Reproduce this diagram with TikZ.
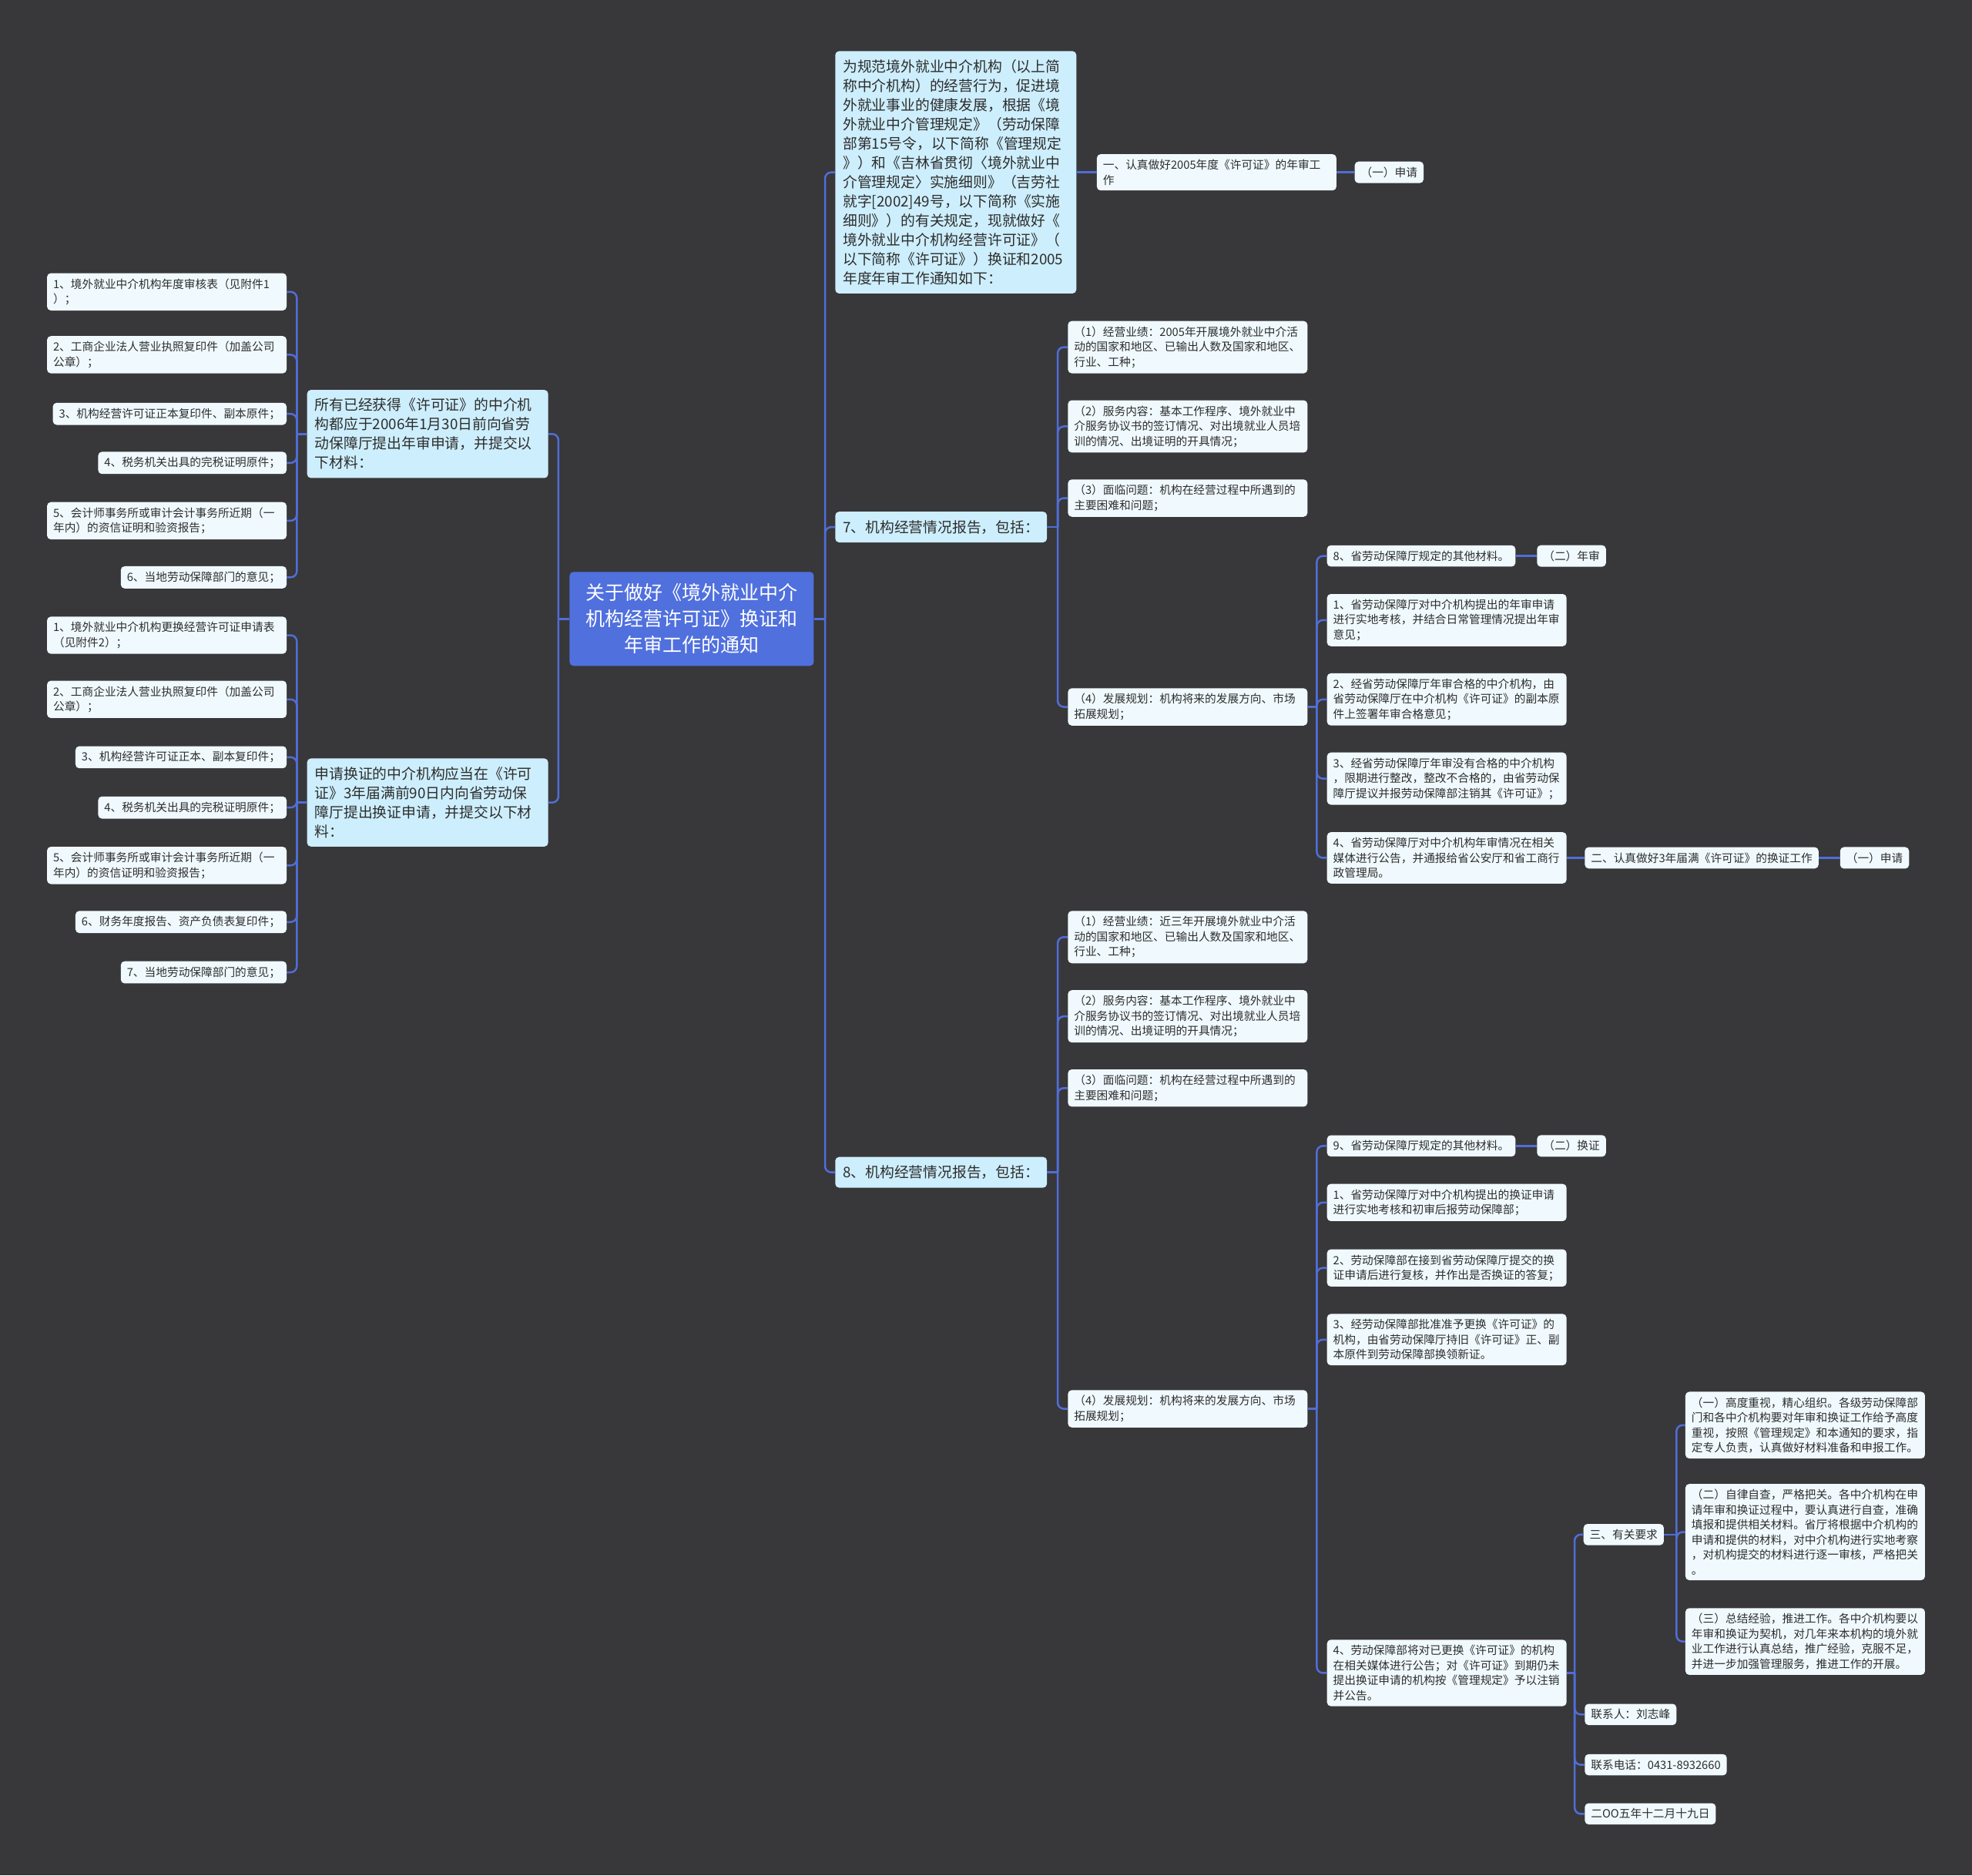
\documentclass[tikz,border=0pt]{standalone}
\usepackage{fontspec}
\newfontfamily\cjk{Noto Sans CJK SC}
\definecolor{bg}{RGB}{56,55,58}
\definecolor{rootc}{RGB}{80,112,222}
\definecolor{lvone}{RGB}{205,238,252}
\definecolor{leafc}{RGB}{240,250,254}
\definecolor{linec}{RGB}{80,110,214}
\definecolor{txt}{RGB}{45,45,45}
\begin{document}
\begin{tikzpicture}[x=1.6327pt,y=-1.6327pt,
  leaf/.style={rounded corners=5pt, fill=leafc, text=txt, inner xsep=8pt, inner ysep=7pt,
    font=\cjk\fontsize{14.7pt}{19.5pt}\selectfont, align=left},
  wleaf/.style={leaf, text width=295pt},
  lvl/.style={rounded corners=5pt, fill=lvone, text=txt, inner xsep=10pt, inner ysep=11pt,
    font=\cjk\fontsize{18.8pt}{25pt}\selectfont, align=left},
  wlvl/.style={lvl, text width=293pt},
  rootn/.style={rounded corners=5pt, fill=rootc, text=white, inner xsep=10pt, inner ysep=10pt,
    font=\cjk\fontsize{25pt}{34pt}\selectfont, align=center, text width=297pt, minimum height=122pt},
  conn/.style={draw=linec, line width=2.5pt, rounded corners=8pt}]
\fill[bg] (0,0) rectangle (1568,1491);
\useasboundingbox (0,0) rectangle (1568,1491);

% root
\node[rootn] (root) at (550,492) {关于做好《境外就业中介\\机构经营许可证》换证和\\年审工作的通知};

% right level 1
\node[wlvl, anchor=west] (intro) at (664,137) {为规范境外就业中介机构（以上简\\称中介机构）的经营行为，促进境\\外就业事业的健康发展，根据《境\\外就业中介管理规定》（劳动保障\\部第15号令，以下简称《管理规定\\》）和《吉林省贯彻〈境外就业中\\介管理规定〉实施细则》（吉劳社\\就字[2002]49号，以下简称《实施\\细则》）的有关规定，现就做好《\\境外就业中介机构经营许可证》（\\以下简称《许可证》）换证和2005\\年度年审工作通知如下：};
\node[wleaf, anchor=west] (y1) at (872,137) {一、认真做好2005年度《许可证》的年审工\\作};
\node[leaf, anchor=west] (y1a) at (1077,137) {（一）申请};

\node[lvl, anchor=west] (s7) at (664,419) {7、机构经营情况报告，包括：};
\node[wleaf, anchor=west] (a1) at (849,276) {（1）经营业绩：2005年开展境外就业中介活\\动的国家和地区、已输出人数及国家和地区、\\行业、工种；};
\node[wleaf, anchor=west] (a2) at (849,339) {（2）服务内容：基本工作程序、境外就业中\\介服务协议书的签订情况、对出境就业人员培\\训的情况、出境证明的开具情况；};
\node[wleaf, anchor=west] (a3) at (849,396) {（3）面临问题：机构在经营过程中所遇到的\\主要困难和问题；};
\node[wleaf, anchor=west] (a4) at (849,562) {（4）发展规划：机构将来的发展方向、市场\\拓展规划；};
\node[leaf, anchor=west] (b8) at (1055,442) {8、省劳动保障厅规定的其他材料。};
\node[leaf, anchor=west] (b8n) at (1222,442) {（二）年审};
\node[wleaf, anchor=west] (b1) at (1055,493) {1、省劳动保障厅对中介机构提出的年审申请\\进行实地考核，并结合日常管理情况提出年审\\意见；};
\node[wleaf, anchor=west] (b2) at (1055,556) {2、经省劳动保障厅年审合格的中介机构，由\\省劳动保障厅在中介机构《许可证》的副本原\\件上签署年审合格意见；};
\node[wleaf, anchor=west] (b3) at (1055,619) {3、经省劳动保障厅年审没有合格的中介机构\\，限期进行整改，整改不合格的，由省劳动保\\障厅提议并报劳动保障部注销其《许可证》；};
\node[wleaf, anchor=west] (b4) at (1055,682) {4、省劳动保障厅对中介机构年审情况在相关\\媒体进行公告，并通报给省公安厅和省工商行\\政管理局。};
\node[leaf, anchor=west] (b4n) at (1260,682) {二、认真做好3年届满《许可证》的换证工作};
\node[leaf, anchor=west] (b4nn) at (1463,682) {（一）申请};

\node[lvl, anchor=west] (s8) at (664,932) {8、机构经营情况报告，包括：};
\node[wleaf, anchor=west] (c1) at (849,745) {（1）经营业绩：近三年开展境外就业中介活\\动的国家和地区、已输出人数及国家和地区、\\行业、工种；};
\node[wleaf, anchor=west] (c2) at (849,808) {（2）服务内容：基本工作程序、境外就业中\\介服务协议书的签订情况、对出境就业人员培\\训的情况、出境证明的开具情况；};
\node[wleaf, anchor=west] (c3) at (849,865) {（3）面临问题：机构在经营过程中所遇到的\\主要困难和问题；};
\node[wleaf, anchor=west] (c4) at (849,1120) {（4）发展规划：机构将来的发展方向、市场\\拓展规划；};
\node[leaf, anchor=west] (d9) at (1055,911) {9、省劳动保障厅规定的其他材料。};
\node[leaf, anchor=west] (d9n) at (1222,911) {（二）换证};
\node[wleaf, anchor=west] (d1) at (1055,956) {1、省劳动保障厅对中介机构提出的换证申请\\进行实地考核和初审后报劳动保障部；};
\node[wleaf, anchor=west] (d2) at (1055,1008) {2、劳动保障部在接到省劳动保障厅提交的换\\证申请后进行复核，并作出是否换证的答复；};
\node[wleaf, anchor=west] (d3) at (1055,1065) {3、经劳动保障部批准准予更换《许可证》的\\机构，由省劳动保障厅持旧《许可证》正、副\\本原件到劳动保障部换领新证。};
\node[wleaf, anchor=west] (d4) at (1055,1330) {4、劳动保障部将对已更换《许可证》的机构\\在相关媒体进行公告；对《许可证》到期仍未\\提出换证申请的机构按《管理规定》予以注销\\并公告。};
\node[leaf, anchor=west] (e0) at (1259,1220) {三、有关要求};
\node[wleaf, anchor=west] (e1) at (1340,1133) {（一）高度重视，精心组织。各级劳动保障部\\门和各中介机构要对年审和换证工作给予高度\\重视，按照《管理规定》和本通知的要求，指\\定专人负责，认真做好材料准备和申报工作。};
\node[wleaf, anchor=west] (e2) at (1340,1218) {（二）自律自查，严格把关。各中介机构在申\\请年审和换证过程中，要认真进行自查，准确\\填报和提供相关材料。省厅将根据中介机构的\\申请和提供的材料，对中介机构进行实地考察\\，对机构提交的材料进行逐一审核，严格把关\\。};
\node[wleaf, anchor=west] (e3) at (1340,1305) {（三）总结经验，推进工作。各中介机构要以\\年审和换证为契机，对几年来本机构的境外就\\业工作进行认真总结，推广经验，克服不足，\\并进一步加强管理服务，推进工作的开展。};
\node[leaf, anchor=west] (f1) at (1260,1363) {联系人：刘志峰};
\node[leaf, anchor=west] (f2) at (1260,1403) {联系电话：0431-8932660};
\node[leaf, anchor=west] (f3) at (1260,1442) {二OO五年十二月十九日};

% left side
\node[wlvl, anchor=east] (L1) at (436,345) {所有已经获得《许可证》的中介机\\构都应于2006年1月30日前向省劳\\动保障厅提出年审申请，并提交以\\下材料：};
\node[wleaf, anchor=east] (g1) at (228,232) {1、境外就业中介机构年度审核表（见附件1\\）；};
\node[wleaf, anchor=east] (g2) at (228,282) {2、工商企业法人营业执照复印件（加盖公司\\公章）；};
\node[leaf, anchor=east] (g3) at (228,329) {3、机构经营许可证正本复印件、副本原件；};
\node[leaf, anchor=east] (g4) at (228,368) {4、税务机关出具的完税证明原件；};
\node[wleaf, anchor=east] (g5) at (228,414) {5、会计师事务所或审计会计事务所近期（一\\年内）的资信证明和验资报告；};
\node[leaf, anchor=east] (g6) at (228,459) {6、当地劳动保障部门的意见；};

\node[wlvl, anchor=east] (L2) at (436,638) {申请换证的中介机构应当在《许可\\证》3年届满前90日内向省劳动保\\障厅提出换证申请，并提交以下材\\料：};
\node[wleaf, anchor=east] (h1) at (228,505) {1、境外就业中介机构更换经营许可证申请表\\（见附件2）；};
\node[wleaf, anchor=east] (h2) at (228,556) {2、工商企业法人营业执照复印件（加盖公司\\公章）；};
\node[leaf, anchor=east] (h3) at (228,602) {3、机构经营许可证正本、副本复印件；};
\node[leaf, anchor=east] (h4) at (228,642) {4、税务机关出具的完税证明原件；};
\node[wleaf, anchor=east] (h5) at (228,688) {5、会计师事务所或审计会计事务所近期（一\\年内）的资信证明和验资报告；};
\node[leaf, anchor=east] (h6) at (228,733) {6、财务年度报告、资产负债表复印件；};
\node[leaf, anchor=east] (h7) at (228,773) {7、当地劳动保障部门的意见；};

% connectors right
\coordinate (jr) at (656,492);
\draw[conn] (root.east) -- (jr);
\foreach \n in {intro,s7,s8} \draw[conn] (jr) |- (\n.west);
\draw[conn] (intro.east |- y1.west) -- (y1.west);
\draw[conn] (y1.east) -- (y1a.west);

\coordinate (j7) at (841,419);
\draw[conn] (s7.east) -- (j7);
\foreach \n in {a1,a2,a3,a4} \draw[conn] (j7) |- (\n.west);
\coordinate (ja4) at (1047,562);
\draw[conn] (a4.east) -- (ja4);
\foreach \n in {b8,b1,b2,b3,b4} \draw[conn] (ja4) |- (\n.west);
\draw[conn] (b8.east) -- (b8n.west);
\draw[conn] (b4.east) -- (b4n.west);
\draw[conn] (b4n.east) -- (b4nn.west);

\coordinate (j8) at (841,932);
\draw[conn] (s8.east) -- (j8);
\foreach \n in {c1,c2,c3,c4} \draw[conn] (j8) |- (\n.west);
\coordinate (jc4) at (1047,1120);
\draw[conn] (c4.east) -- (jc4);
\foreach \n in {d9,d1,d2,d3,d4} \draw[conn] (jc4) |- (\n.west);
\draw[conn] (d9.east) -- (d9n.west);
\coordinate (jd4) at (1252,1330);
\draw[conn] (d4.east) -- (jd4);
\foreach \n in {e0,f1,f2,f3} \draw[conn] (jd4) |- (\n.west);
\coordinate (je0) at (1333,1220);
\draw[conn] (e0.east) -- (je0);
\foreach \n in {e1,e2,e3} \draw[conn] (je0) |- (\n.west);

% connectors left
\coordinate (jl) at (444,492);
\draw[conn] (root.west) -- (jl);
\foreach \n in {L1,L2} \draw[conn] (jl) |- (\n.east);
\coordinate (jl1) at (236,345);
\draw[conn] (L1.west) -- (jl1);
\foreach \n in {g1,g2,g3,g4,g5,g6} \draw[conn] (jl1) |- (\n.east);
\coordinate (jl2) at (236,638);
\draw[conn] (L2.west) -- (jl2);
\foreach \n in {h1,h2,h3,h4,h5,h6,h7} \draw[conn] (jl2) |- (\n.east);
\end{tikzpicture}
\end{document}
